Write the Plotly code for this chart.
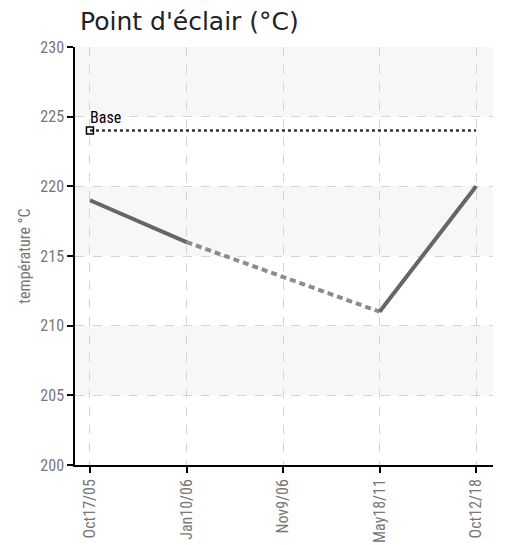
import plotly.graph_objects as go

categories = ["Oct17/05", "Jan10/06", "Nov9/06", "May18/11", "Oct12/18"]
values = [219, 216, None, 211, 220]
base_value = 224
y_ticks = [200, 205, 210, 215, 220, 225, 230]

xs = list(range(len(categories)))
FONT = "Roboto Condensed, Liberation Sans Narrow, DejaVu Sans Condensed, sans-serif"

fig = go.Figure()

# alternating bands
for i in range(len(y_ticks) - 1):
    if i % 2 == 1:
        fig.add_shape(type="rect", xref="paper", yref="y", x0=0, x1=1,
                      y0=y_ticks[i], y1=y_ticks[i + 1],
                      fillcolor="#f7f7f7", line_width=0, layer="below")

# dashed connector across gaps
valid = [i for i, v in enumerate(values) if v is not None]
for a, b in zip(valid[:-1], valid[1:]):
    if b - a > 1:
        fig.add_trace(go.Scatter(x=[xs[a], xs[b]], y=[values[a], values[b]],
                                 mode="lines", line=dict(color="#8c8c8c", width=4, dash="6px,4px"),
                                 hoverinfo="skip", showlegend=False))

fig.add_trace(go.Scatter(x=xs, y=values, mode="lines", connectgaps=False,
                         line=dict(color="#666666", width=4), showlegend=False))

# base line
fig.add_trace(go.Scatter(x=[xs[0], xs[-1]], y=[base_value, base_value], mode="lines",
                         line=dict(color="#333333", width=2.5, dash="dot"), showlegend=False))
fig.add_trace(go.Scatter(x=[xs[0]], y=[base_value], mode="markers",
                         marker=dict(symbol="square-open", size=7, color="black", line=dict(width=1.5)),
                         showlegend=False))
fig.add_annotation(x=xs[0], y=base_value, text="Base", showarrow=False,
                   xanchor="left", yanchor="bottom", xshift=-2, yshift=2,
                   font=dict(family=FONT, size=16, color="black"))

fig.update_layout(
    width=498, height=537,
    margin=dict(l=67, r=13, t=39, b=80),
    paper_bgcolor="white", plot_bgcolor="white",
    title=dict(text="Point d'éclair (°C)", x=72 / 498, xanchor="left", y=1 - 13 / 537, yanchor="middle",
               font=dict(family="DejaVu Sans", size=25, color="#222222")),
    xaxis=dict(tickmode="array", tickvals=xs, ticktext=categories, tickangle=-90,
               range=[-0.155, len(categories) - 1 + 0.175], automargin=False,
               showline=True, linecolor="black", linewidth=1.5,
               ticks="outside", ticklen=6, tickcolor="black", tickwidth=1.5,
               showgrid=True, gridcolor="#d4d4d4", griddash="dash", gridwidth=1,
               zeroline=False, tickfont=dict(family=FONT, size=16, color="#777777")),
    yaxis=dict(range=[200, 230], tickvals=y_ticks, automargin=False,
               showline=True, linecolor="black", linewidth=1.5,
               ticks="outside", ticklen=6, tickcolor="black", tickwidth=1.5,
               showgrid=True, gridcolor="#d4d4d4", griddash="dash", gridwidth=1,
               zeroline=False, tickfont=dict(family=FONT, size=16, color="#777777"),
               title=dict(text="température °C", standoff=6,
                          font=dict(family=FONT, size=16, color="#777777"))),
)

fig.write_html("out.html")
